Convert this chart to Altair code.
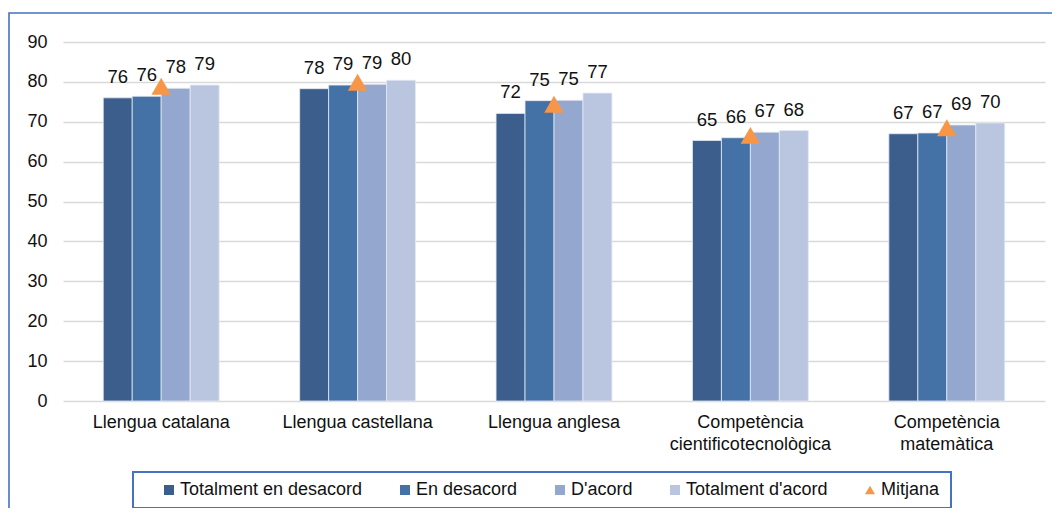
import altair as alt
import pandas as pd

categories = ["Llengua catalana", "Llengua castellana", "Llengua anglesa",
              "Competència cientificotecnològica", "Competència matemàtica"]
series = ["Totalment en desacord", "En desacord", "D'acord", "Totalment d'acord"]
mean_name = "Mitjana"

totalment_desacord = [76.0, 78.3, 72.1, 65.3, 67.0]
en_desacord = [76.4, 79.2, 75.3, 66.0, 67.2]
d_acord = [78.4, 79.4, 75.4, 67.4, 69.2]
totalment_acord = [79.2, 80.4, 77.2, 67.8, 69.7]
mitjana = [78.9, 79.9, 74.4, 66.6, 68.5]

y_ticks = [0, 10, 20, 30, 40, 50, 60, 70, 80, 90]
colors = ["#3B5E8D", "#4472A7", "#94A8CF", "#BAC6E0", "#F79646"]

FONT = "Liberation Sans"

rows = []
for s, vals in zip(series, [totalment_desacord, en_desacord, d_acord, totalment_acord]):
    for c, v in zip(categories, vals):
        rows.append({"categoria": c, "serie": s, "valor": v})
bars_df = pd.DataFrame(rows)
mean_df = pd.DataFrame({"categoria": categories, "serie": [mean_name] * len(categories), "valor": mitjana})
frame_df = pd.DataFrame({"k": [0]})

legend = alt.Legend(orient="none", legendX=97, legendY=439, direction="horizontal", title=None,
                    labelFontSize=18, labelFont=FONT, labelColor="#111111", symbolSize=100,
                    columnPadding=33, labelOffset=2, padding=0, labelLimit=0, symbolStrokeWidth=0)

color_scale = alt.Scale(domain=series + [mean_name], range=colors)
shape_scale = alt.Scale(domain=series + [mean_name],
                        range=["square", "square", "square", "square", "triangle-up"])

x_enc = alt.X("categoria:N", sort=categories, title=None,
              scale=alt.Scale(paddingInner=0.41, paddingOuter=0.205),
              axis=alt.Axis(labelAngle=0, domain=False, ticks=False, grid=False, labelFontSize=18,
                            labelFont=FONT, labelColor="#111111", labelPadding=12, labelLineHeight=22,
                            labelExpr="indexof(datum.label, 'Competència') == 0 ? split(datum.label, ' ') : datum.label"))
y_enc = alt.Y("valor:Q", title=None, scale=alt.Scale(domain=[0, 90], nice=False),
              axis=alt.Axis(values=y_ticks, tickCount=10, domain=False, ticks=False, gridColor="#D9D9D9",
                            gridWidth=1.5, labelOverlap=False,
                            labelFontSize=18, labelFont=FONT, labelColor="#111111", labelPadding=16))
xoff = alt.XOffset("serie:N", sort=series, scale=alt.Scale(domain=series, paddingInner=0, paddingOuter=0))

bars = alt.Chart(bars_df).mark_bar(stroke="#E4E9F2", strokeWidth=0.8).encode(
    x=x_enc, y=y_enc, xOffset=xoff,
    color=alt.Color("serie:N", scale=color_scale, legend=legend),
)

labels = alt.Chart(bars_df).mark_text(baseline="alphabetic", dy=-15, fontSize=18.5, font=FONT,
                                      color="#111111").encode(
    x=x_enc, y=y_enc, xOffset=xoff,
    text=alt.Text("valor:Q", format=".0f"),
)

points = alt.Chart(mean_df).mark_point(filled=True, size=380, opacity=1).encode(
    x=x_enc, y=y_enc,
    color=alt.Color("serie:N", scale=color_scale, legend=legend),
    shape=alt.Shape("serie:N", scale=shape_scale, legend=legend),
)

frame = alt.Chart(frame_df).mark_rect(fillOpacity=0, stroke="#4472C4", strokeWidth=1.6).encode(
    x=alt.value(-54), x2=alt.value(1010), y=alt.value(-29), y2=alt.value(490))

legend_box = alt.Chart(frame_df).mark_rect(fillOpacity=0, stroke="#4472C4", strokeWidth=2).encode(
    x=alt.value(70), x2=alt.value(888), y=alt.value(430), y2=alt.value(466))

chart = alt.layer(frame, legend_box, bars, labels, points).properties(
    width=982, height=359,
    autosize=alt.AutoSizeParams(type="none"),
    padding={"left": 55, "top": 34, "right": 7, "bottom": 107},
).configure_view(strokeWidth=0)

chart.save("out.html", embed_options={"renderer": "svg", "actions": False})
